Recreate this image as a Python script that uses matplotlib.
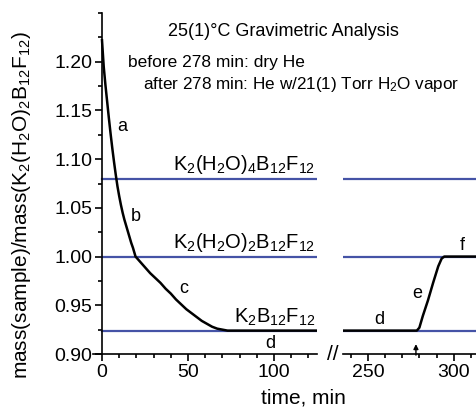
import matplotlib
matplotlib.use("Agg")
import matplotlib.pyplot as plt
from matplotlib.ticker import MultipleLocator, FormatStrFormatter

plt.rcParams['font.family'] = ['Liberation Sans', 'DejaVu Sans']
plt.rcParams['mathtext.fontset'] = 'custom'
plt.rcParams['mathtext.rm'] = 'Liberation Sans'
plt.rcParams['mathtext.it'] = 'Liberation Sans:italic'

# dry He part (0 - 125 min)
t_dry = [0, 1, 2, 3, 4, 5, 6, 7, 8, 9, 10, 11, 12, 13, 14, 15, 16, 17, 18, 19.5,
         22, 25, 28, 31, 34, 37, 40, 43, 46, 49, 52, 55, 58, 61, 64, 67, 70, 73, 125]
m_dry = [1.222, 1.195, 1.176, 1.159, 1.142, 1.126, 1.111, 1.097, 1.084, 1.072,
         1.062, 1.053, 1.045, 1.038, 1.032, 1.026, 1.020, 1.014, 1.009, 1.000,
         0.995, 0.989, 0.983, 0.978, 0.973, 0.967, 0.962, 0.956, 0.951, 0.946,
         0.942, 0.938, 0.934, 0.931, 0.928, 0.926, 0.925, 0.924, 0.924]

# wet He part (after 278 min)
t_wet = [235.5, 278.5, 280, 282, 285, 288, 291, 293, 294.5, 313]
m_wet = [0.924, 0.924, 0.927, 0.939, 0.955, 0.973, 0.990, 0.998, 1.000, 1.000]

# reference hydrate levels
levels = [1.080, 1.000, 0.924]
level_names = [r'$\mathregular{K_2(H_2O)_4B_{12}F_{12}}$',
               r'$\mathregular{K_2(H_2O)_2B_{12}F_{12}}$',
               r'$\mathregular{K_2B_{12}F_{12}}$']

blue = '#4553a6'
W, H = 476, 412
fig = plt.figure(figsize=(W / 100, H / 100), dpi=100)

ax1 = fig.add_axes([93.4 / W, 58 / H, 223.6 / W, 341 / H])
ax2 = fig.add_axes([343 / W, 58 / H, 133 / W, 341 / H])

for lv in levels:
    ax1.plot([0, 125], [lv, lv], color=blue, lw=1.6)
    ax2.plot([235.5, 313], [lv, lv], color=blue, lw=1.6)
ax1.plot(t_dry, m_dry, color='black', lw=1.8)
ax2.plot(t_wet, m_wet, color='black', lw=1.8)

for ax, lims in [(ax1, (-5, 125)), (ax2, (235.5, 313))]:
    ax.set_xlim(*lims)
    ax.set_ylim(0.9, 1.25)
    ax.spines['top'].set_visible(False)
    ax.spines['right'].set_visible(False)
    ax.spines['bottom'].set_linewidth(1.2)
    ax.xaxis.set_major_locator(MultipleLocator(50))
    ax.xaxis.set_minor_locator(MultipleLocator(10))
    ax.tick_params(axis='x', which='major', length=5, width=1.2, labelsize=14, pad=2)
    ax.tick_params(axis='x', which='minor', length=3, width=1.2)
    ax.patch.set_visible(False)

ax1.spines['left'].set_position(('data', 0))
ax1.spines['left'].set_linewidth(1.2)
ax1.yaxis.set_major_locator(MultipleLocator(0.05))
ax1.yaxis.set_minor_locator(MultipleLocator(0.025))
ax1.yaxis.set_major_formatter(FormatStrFormatter('%.2f'))
ax1.tick_params(axis='y', which='major', length=5, width=1.2, labelsize=14, pad=2)
ax1.tick_params(axis='y', which='minor', length=3, width=1.2)
ax1.set_yticks([0.90, 0.95, 1.00, 1.05, 1.10, 1.15, 1.20])

ax2.spines['left'].set_visible(False)
ax2.set_yticks([])
ax2.set_yticks([], minor=True)

# level labels
for lv, name in zip(levels, level_names):
    ax1.text(124, lv + 0.003, name, ha='right', va='bottom', fontsize=14.5)

# segment letters
for x, y, s, a in [(11.6, 1.134, 'a', ax1), (19.7, 1.041, 'b', ax1),
                   (47.7, 0.967, 'c', ax1), (98, 0.911, 'd', ax1),
                   (256.7, 0.935, 'd', ax2), (278.8, 0.962, 'e', ax2),
                   (304.8, 1.011, 'f', ax2)]:
    a.text(x, y, s, ha='center', va='center', fontsize=13)

# arrow marking the gas switch
ax2.annotate('', xy=(278, 0.913), xytext=(278, 0.896),
             arrowprops=dict(arrowstyle='-|>', color='black', lw=1, mutation_scale=7),
             annotation_clip=False)

fig.text(168 / W, 1 - 32 / H, '25(1)°C Gravimetric Analysis', fontsize=13, va='center')
fig.text(128 / W, 1 - 62 / H, 'before 278 min: dry He', fontsize=12.5, va='center')
fig.text(143 / W, 1 - 85 / H, r'after 278 min: He w/21(1) Torr H$\mathregular{_2}$O vapor',
         fontsize=12.3, va='center')

fig.text(333 / W, 58 / H, '//', fontsize=15, ha='center', va='center')
fig.text(303 / W, 1 - 398 / H, 'time, min', fontsize=15, ha='center', va='center')
fig.text(22 / W, 1 - 205 / H,
         r'mass(sample)/mass(K$\mathregular{_2}$(H$\mathregular{_2}$O)$\mathregular{_2}$B$\mathregular{_{12}}$F$\mathregular{_{12}}$)',
         fontsize=15, rotation=90, ha='center', va='center')

fig.savefig('out.png', dpi=100)
